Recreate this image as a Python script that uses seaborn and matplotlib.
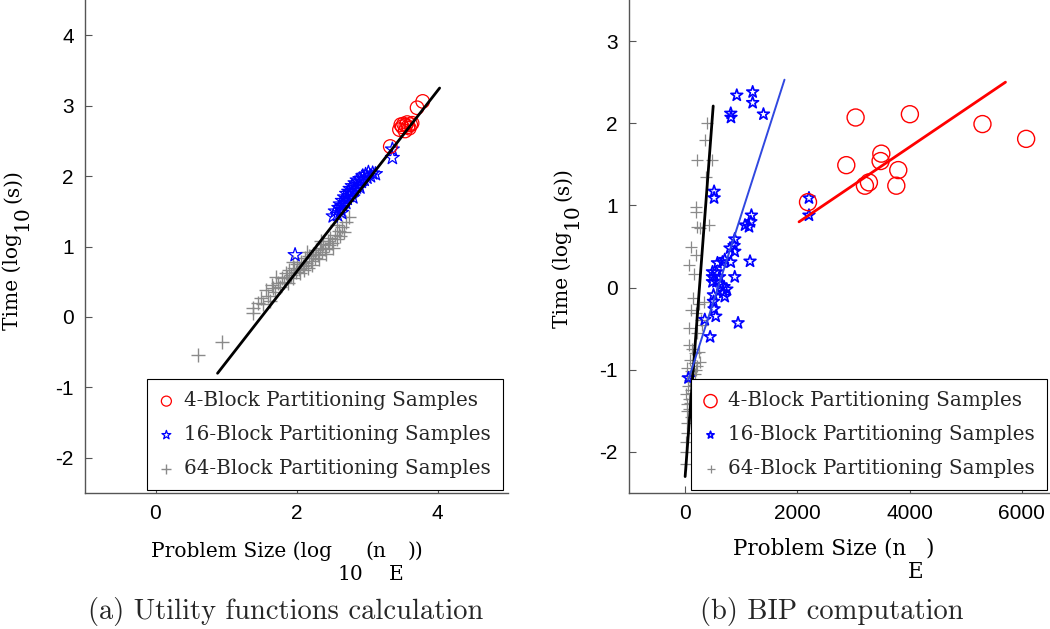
import numpy as np
import pandas as pd
import matplotlib
matplotlib.use("Agg")
import matplotlib.pyplot as plt
import seaborn as sns

# ---------------- data : panel (a) ----------------
a4_x = [3.33, 3.46, 3.50, 3.52, 3.55, 3.57, 3.60, 3.62, 3.58, 3.64, 3.71, 3.79, 3.54, 3.48]
a4_y = [2.42, 2.66, 2.70, 2.74, 2.72, 2.76, 2.68, 2.73, 2.70, 2.75, 2.97, 3.06, 2.64, 2.73]

a16_x = [1.98, 2.52, 2.55, 2.58, 2.60, 2.62, 2.63, 2.65, 2.66, 2.68, 2.70, 2.71, 2.72, 2.74,
         2.75, 2.76, 2.78, 2.79, 2.80, 2.82, 2.83, 2.85, 2.86, 2.88, 2.90, 2.92, 2.94, 2.96,
         2.98, 3.00, 3.02, 3.05, 3.08, 3.12, 2.64, 2.90, 3.36, 3.36]
a16_y = [0.88, 1.43, 1.50, 1.45, 1.55, 1.60, 1.52, 1.65, 1.58, 1.70, 1.62, 1.75, 1.68, 1.78,
         1.72, 1.82, 1.76, 1.86, 1.70, 1.80, 1.90, 1.84, 1.94, 1.88, 1.96, 1.92, 2.00, 1.95,
         2.02, 1.98, 2.05, 2.00, 2.04, 2.03, 1.48, 1.84, 2.38, 2.26]

a64_x = [0.60, 0.95, 1.38, 1.38, 1.45, 1.50, 1.52, 1.57, 1.60, 1.62, 1.65, 1.67, 1.70, 1.71,
         1.74, 1.76, 1.80, 1.82, 1.85, 1.87, 1.88, 1.90, 1.92, 1.95, 1.97, 1.99, 2.01, 2.03,
         2.05, 2.07, 2.09, 2.10, 2.12, 2.14, 2.16, 2.18, 2.20, 2.22, 2.24, 2.26, 2.28, 2.30,
         2.32, 2.34, 2.36, 2.38, 2.40, 2.42, 2.44, 2.46, 2.48, 2.50, 2.52, 2.55, 2.57, 2.60,
         2.62, 2.65, 2.68, 2.70, 2.74, 2.58, 2.35, 2.15, 1.95]
a64_y = [-0.54, -0.35, 0.12, 0.05, 0.20, 0.27, 0.18, 0.38, 0.30, 0.22, 0.45, 0.41, 0.35, 0.57,
         0.48, 0.42, 0.55, 0.50, 0.62, 0.56, 0.48, 0.66, 0.60, 0.55, 0.70, 0.64, 0.75, 0.68,
         0.62, 0.78, 0.72, 0.66, 0.83, 0.76, 0.70, 0.86, 0.80, 0.74, 0.90, 0.84, 0.95, 0.88,
         0.82, 0.98, 0.92, 1.04, 0.96, 0.90, 1.08, 1.02, 1.12, 1.05, 0.98, 1.16, 1.10, 1.22,
         1.15, 1.28, 1.20, 1.35, 1.42, 1.30, 1.08, 0.92, 0.78]

a_fit_x = [0.88, 4.03]
a_fit_y = [-0.80, 3.25]

# ---------------- data : panel (b) ----------------
b4_x = [2189, 3037, 2871, 3203, 3274, 3495, 3482, 3797, 3762, 4004, 5297, 6075]
b4_y = [1.04, 2.07, 1.49, 1.24, 1.28, 1.63, 1.54, 1.43, 1.24, 2.11, 1.99, 1.81]

b16_x = [920, 1203, 1203, 813, 817, 1395, 516, 516, 2206, 2206, 1181, 1170, 1067, 1138,
         884, 872, 800, 884, 1156, 576, 665, 706, 813, 487, 558, 487, 612, 884, 487, 558,
         629, 742, 693, 681, 706, 505, 505, 516, 545, 350, 445, 943, 60]
b16_y = [2.34, 2.38, 2.25, 2.12, 2.07, 2.11, 1.17, 1.09, 1.09, 0.88, 0.88, 0.80, 0.76, 0.74,
         0.59, 0.51, 0.48, 0.44, 0.32, 0.30, 0.31, 0.34, 0.31, 0.19, 0.19, 0.13, 0.13, 0.13,
         0.07, 0.07, 0.03, -0.02, 0.01, -0.06, -0.11, -0.09, -0.17, -0.26, -0.35, -0.39,
         -0.60, -0.43, -1.10]

b64_x = [386, 350, 220, 487, 368, 190, 200, 220, 260, 427, 100, 190, 71, 160, 137, 338,
         100, 190, 71, 279, 220, 240, 300, 60, 120, 180, 250, 90, 150, 210, 40, 110, 170,
         30, 80, 140, 200, 260, 50, 100, 160, 20, 70, 130, 40, 90, 30, 60, 101, 42, 20,
         10, 35, 15]
b64_y = [2.00, 1.80, 1.55, 1.55, 1.35, 0.98, 0.92, 0.74, 0.72, 0.76, 0.50, 0.40, 0.28,
         0.17, -0.13, -0.17, -0.27, -0.31, -0.49, -0.39, -0.55, -0.20, -0.45, -0.70, -0.75,
         -0.80, -0.78, -0.88, -0.92, -0.95, -0.98, -1.02, -1.05, -1.08, -1.12, -1.15, -1.00,
         -0.90, -1.20, -1.25, -1.18, -1.30, -1.35, -1.28, -1.42, -1.40, -1.50, -1.48, -1.57,
         -1.77, -2.00, -2.15, -1.65, -1.88]

b_fit64_x = [0, 500]
b_fit64_y = [-2.30, 2.21]
b_fit16_x = [60, 1770]
b_fit16_y = [-1.12, 2.53]
b_fit4_x = [2029, 5707]
b_fit4_y = [0.80, 2.50]

labels = ["4-Block Partitioning Samples", "16-Block Partitioning Samples",
          "64-Block Partitioning Samples"]
ticks_a_x = [0, 2, 4]
ticks_a_y = [-2, -1, 0, 1, 2, 3, 4]
ticks_b_x = [0, 2000, 4000, 6000]
ticks_b_y = [-2, -1, 0, 1, 2, 3]

# ---------------- style ----------------
sns.set_theme(style="white")
plt.rcParams["font.family"] = ["Liberation Sans", "DejaVu Sans"]
plt.rcParams["axes.unicode_minus"] = False

W, H = 1050, 629
RED = "#ff0000"
BLUE = "#0000ff"
GRAY = "#8a8a8a"
SERIF = ["DejaVu Serif"]
LEG_FS = 14.3

fig = plt.figure(figsize=(W / 100, H / 100), dpi=100)
axL = fig.add_axes([85 / W, 136 / H, 423 / W, 493 / H])
axR = fig.add_axes([629 / W, 136 / H, 421 / W, 493 / H])


def style_axes(ax):
    for s in ["top", "right"]:
        ax.spines[s].set_visible(False)
    for s in ["left", "bottom"]:
        ax.spines[s].set_color("#555555")
        ax.spines[s].set_linewidth(1.0)
    ax.tick_params(direction="in", length=5, width=0.8, color="#555555",
                   labelsize=15, pad=8, left=True, bottom=True, labelcolor="black")


# ---- panel (a) ----
sns.scatterplot(x=a64_x, y=a64_y, ax=axL, marker="+", s=110, color=GRAY,
                linewidth=1.0, label=labels[2], zorder=2)
sns.scatterplot(x=a16_x, y=a16_y, ax=axL, marker="*", s=110, facecolor="none",
                edgecolor=BLUE, linewidth=0.9, label=labels[1], zorder=3)
sns.scatterplot(x=a4_x, y=a4_y, ax=axL, marker="o", s=95, facecolor="none",
                edgecolor=RED, linewidth=0.9, label=labels[0], zorder=3)
sns.lineplot(x=a_fit_x, y=a_fit_y, ax=axL, color="black", linewidth=2.0, zorder=4)

axL.set_xlim(-1, 5)
axL.set_ylim(-2.5, 4.5)
axL.set_xticks(ticks_a_x)
axL.set_yticks(ticks_a_y)
style_axes(axL)

# ---- panel (b) ----
sns.scatterplot(x=b64_x, y=b64_y, ax=axR, marker="+", s=70, color=GRAY,
                linewidth=0.9, label=labels[2], zorder=2)
sns.scatterplot(x=b16_x, y=b16_y, ax=axR, marker="*", s=80, facecolor="none",
                edgecolor=BLUE, linewidth=1.2, label=labels[1], zorder=3)
sns.scatterplot(x=b4_x, y=b4_y, ax=axR, marker="o", s=150, facecolor="none",
                edgecolor=RED, linewidth=1.0, label=labels[0], zorder=3)
sns.lineplot(x=b_fit64_x, y=b_fit64_y, ax=axR, color="black", linewidth=2.0, zorder=4)
sns.lineplot(x=b_fit16_x, y=b_fit16_y, ax=axR, color="#3048e0", linewidth=1.4, zorder=4)
sns.lineplot(x=b_fit4_x, y=b_fit4_y, ax=axR, color=RED, linewidth=2.0, zorder=4)

axR.set_xlim(-1000, 6500)
axR.set_ylim(-2.5, 3.5)
axR.set_xticks(ticks_b_x)
axR.set_yticks(ticks_b_y)
style_axes(axR)

# ---- legends ----
for ax, anchor, hsizes in [(axL, (0.988, 0.006), [52, 45, 52]),
                           (axR, (0.993, 0.006), [90, 30, 35])]:
    h, l = ax.get_legend_handles_labels()
    order = [l.index(x) for x in labels]
    leg = ax.legend([h[i] for i in order], [l[i] for i in order],
                    loc="lower right", bbox_to_anchor=anchor,
                    prop={"family": SERIF, "size": LEG_FS}, frameon=True,
                    fancybox=False, framealpha=1, edgecolor="black",
                    borderpad=0.6, labelspacing=0.75, handletextpad=0.5,
                    handlelength=0.8, borderaxespad=0)
    leg.get_frame().set_linewidth(0.8)
    for hd, sz in zip(leg.legend_handles, hsizes):
        hd.set_sizes([sz])


# ---- axis labels with MATLAB-like lowered full-size subscripts ----
def chain_text(ax, pieces, x0, y0, fs, vertical=False):
    """pieces: list of (text, drop_px, gap_px); x0, y0 = start/baseline in px."""
    fx, fy = x0 / W, 1 - y0 / H
    rot = 90 if vertical else 0
    kw = dict(ha="left", va="baseline", rotation=rot, rotation_mode="anchor",
              fontsize=fs, family=SERIF, color="black")
    prev = fig.text(fx, fy, pieces[0][0], **kw)
    for txt, drop, gap in pieces[1:]:
        if vertical:
            prev = ax.annotate(txt, xy=(fx, 1), xycoords=("figure fraction", prev),
                               xytext=(drop, gap), textcoords="offset pixels",
                               annotation_clip=False, **kw)
        else:
            prev = ax.annotate(txt, xy=(1, fy), xycoords=(prev, "figure fraction"),
                               xytext=(gap, -drop), textcoords="offset pixels",
                               annotation_clip=False, **kw)


ylab_pieces = [("Time (log", 0, 0), ("10", 9, 2), ("(s))", 0, 2)]
chain_text(axL, ylab_pieces, 18, 330, 14.5, vertical=True)
chain_text(axR, ylab_pieces, 568, 328, 14.5, vertical=True)

chain_text(axL, [("Problem Size (log", 0, 0), ("10", 23, 6), ("(n", 0, 2),
                 ("E", 23, 2), ("))", 0, 4)], 151, 557, 14.5)
chain_text(axR, [("Problem Size (n", 0, 0), ("E", 24, 2), (")", 0, 2)], 733, 554, 15.5)

fig.text(286 / W, 1 - 612 / H, "(a) Utility functions calculation",
         ha="center", va="center", fontsize=20.5, family=["cmr10", "DejaVu Serif"])
fig.text(832 / W, 1 - 612 / H, "(b) BIP computation",
         ha="center", va="center", fontsize=20.5, family=["cmr10", "DejaVu Serif"])

fig.savefig("out.png", dpi=100)
